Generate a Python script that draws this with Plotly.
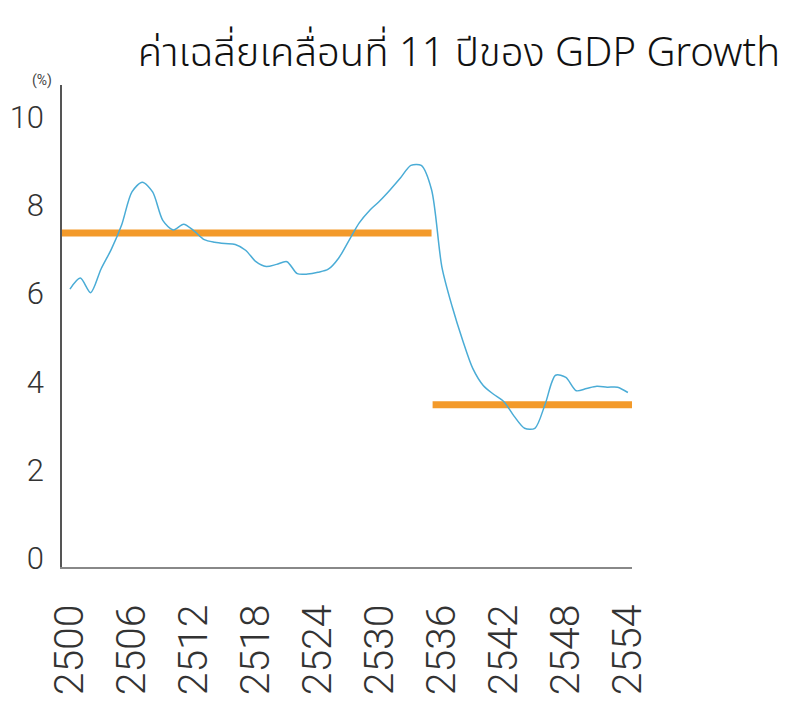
import plotly.graph_objects as go

years = list(range(2500, 2555))
ma11_growth = [6.10, 6.35, 6.02, 6.55, 7.00, 7.55, 8.30, 8.52, 8.30, 7.65,
               7.44, 7.57, 7.42, 7.22, 7.16, 7.13, 7.11, 6.98, 6.72, 6.61,
               6.66, 6.72, 6.45, 6.44, 6.48, 6.55, 6.80, 7.20, 7.60, 7.88,
               8.10, 8.35, 8.62, 8.90, 8.90, 8.35, 6.60, 5.70, 4.95, 4.30,
               3.92, 3.72, 3.55, 3.22, 2.95, 2.95, 3.50, 4.15, 4.10, 3.80,
               3.85, 3.90, 3.88, 3.88, 3.76]

period1_x = [2499.2, 2535.0]
period1_avg = [7.37, 7.37]
period2_x = [2535.1, 2555.1]
period2_avg = [3.48, 3.48]

tick_years = [2500, 2506, 2512, 2518, 2524, 2530, 2536, 2542, 2548, 2554]
tick_text = [str(y) for y in tick_years]
y_ticks = [0, 2, 4, 6, 8, 10]

title_text = "ค่าเฉลี่ยเคลื่อนที่ 11 ปีของ GDP Growth"

W, H = 779, 700  # page body adds an 8px margin

fig = go.Figure()
fig.add_trace(go.Scatter(x=period1_x, y=period1_avg, mode="lines",
                         line=dict(color="#F39A2A", width=7), cliponaxis=False,
                         hoverinfo="skip"))
fig.add_trace(go.Scatter(x=period2_x, y=period2_avg, mode="lines",
                         line=dict(color="#F39A2A", width=7), cliponaxis=False,
                         hoverinfo="skip"))
fig.add_trace(go.Scatter(x=years, y=ma11_growth, mode="lines",
                         line=dict(color="#4AACD6", width=1.5, shape="spline", smoothing=0.8)))

fig.update_layout(
    width=W, height=H,
    margin=dict(l=54, r=155, t=77, b=141),
    paper_bgcolor="white", plot_bgcolor="white",
    showlegend=False,
    title=dict(text=title_text, x=772/W, xanchor="right", xref="container",
               y=1 - 44/H, yanchor="middle", yref="container",
               font=dict(family="Noto Sans Thai, Noto Sans, sans-serif", size=40,
                         color="#111", weight=300)),
    xaxis=dict(range=[2499.23, 2554.4], tickmode="array", tickvals=tick_years,
               ticktext=tick_text, tickangle=-90, showgrid=False, zeroline=False,
               showline=True, linecolor="#888", linewidth=2, ticks="",
               ticklabelstandoff=19, automargin=False,
               tickfont=dict(family="Roboto", size=41, color="#333", weight=300)),
    yaxis=dict(range=[-0.19, 10.72], tickmode="array", tickvals=y_ticks,
               showgrid=False, zeroline=False, showline=True, linecolor="#555",
               linewidth=1.5, ticks="", ticklabelstandoff=10, automargin=False,
               tickfont=dict(family="Roboto", size=31, color="#333", weight=300)),
    annotations=[dict(text="(%)", x=-0.056, y=1.031, xref="paper", yref="paper",
                      showarrow=False, font=dict(family="Roboto", size=14, color="#444"))],
)

fig.write_html("out.html")
